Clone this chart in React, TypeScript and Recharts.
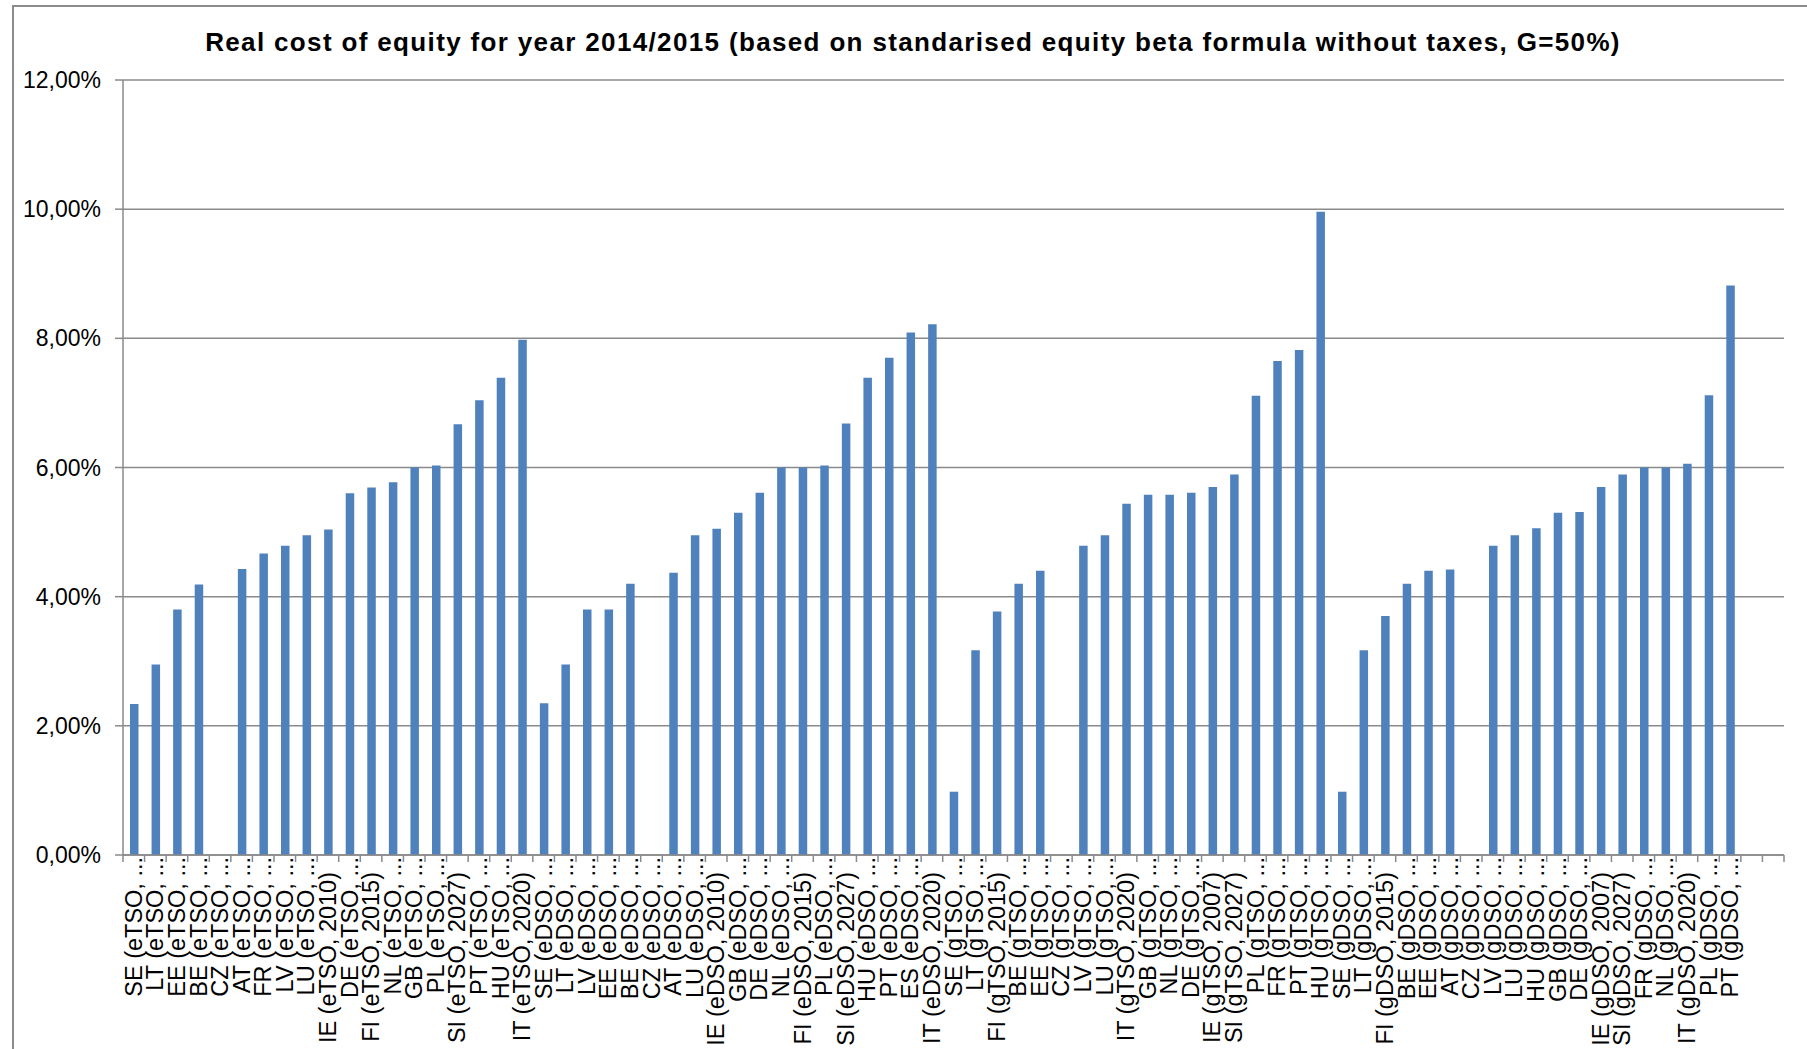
import React from "react";
import { BarChart, Bar, XAxis, YAxis, CartesianGrid } from "recharts";

// labels as printed under the axis (Excel truncated most of them)
const eTsoLabels = [
  "SE (eTSO, ...", "LT (eTSO, ...", "EE (eTSO, ...", "BE (eTSO, ...", "CZ (eTSO, ...",
  "AT (eTSO, ...", "FR (eTSO, ...", "LV (eTSO, ...", "LU (eTSO, ...", "IE (eTSO, 2010)",
  "DE (eTSO, ...", "FI (eTSO, 2015)", "NL (eTSO, ...", "GB (eTSO, ...", "PL (eTSO, ...",
  "SI (eTSO, 2027)", "PT (eTSO, ...", "HU (eTSO, ...", "IT (eTSO, 2020)",
];
const eTsoValues = [
  2.34, 2.95, 3.8, 4.19, null, 4.43, 4.67, 4.79, 4.95, 5.04,
  5.6, 5.69, 5.77, 6.0, 6.03, 6.67, 7.04, 7.39, 7.98,
];

const eDsoLabels = [
  "SE (eDSO, ...", "LT (eDSO, ...", "LV (eDSO, ...", "EE (eDSO, ...", "BE (eDSO, ...",
  "CZ (eDSO, ...", "AT (eDSO, ...", "LU (eDSO, ...", "IE (eDSO, 2010)", "GB (eDSO, ...",
  "DE (eDSO, ...", "NL (eDSO, ...", "FI (eDSO, 2015)", "PL (eDSO, ...", "SI (eDSO, 2027)",
  "HU (eDSO, ...", "PT (eDSO, ...", "ES (eDSO, ...", "IT (eDSO, 2020)",
];
const eDsoValues = [
  2.35, 2.95, 3.8, 3.8, 4.2, null, 4.37, 4.95, 5.05, 5.3,
  5.61, 6.0, 6.0, 6.03, 6.68, 7.39, 7.7, 8.09, 8.22,
];

const gTsoLabels = [
  "SE (gTSO, ...", "LT (gTSO, ...", "FI (gTSO, 2015)", "BE (gTSO, ...", "EE (gTSO, ...",
  "CZ (gTSO, ...", "LV (gTSO, ...", "LU (gTSO, ...", "IT (gTSO, 2020)", "GB (gTSO, ...",
  "NL (gTSO, ...", "DE (gTSO, ...", "IE (gTSO, 2007)", "SI (gTSO, 2027)", "PL (gTSO, ...",
  "FR (gTSO, ...", "PT (gTSO, ...", "HU (gTSO, ...",
];
const gTsoValues = [
  0.98, 3.17, 3.77, 4.2, 4.4, null, 4.79, 4.95, 5.44, 5.58,
  5.58, 5.61, 5.7, 5.89, 7.11, 7.65, 7.82, 9.96,
];

const gDsoLabels = [
  "SE (gDSO, ...", "LT (gDSO, ...", "FI (gDSO, 2015)", "BE (gDSO, ...", "EE (gDSO, ...",
  "AT (gDSO, ...", "CZ (gDSO, ...", "LV (gDSO, ...", "LU (gDSO, ...", "HU (gDSO, ...",
  "GB (gDSO, ...", "DE (gDSO, ...", "IE (gDSO, 2007)", "SI (gDSO, 2027)", "FR (gDSO, ...",
  "NL (gDSO, ...", "IT (gDSO, 2020)", "PL (gDSO, ...", "PT (gDSO, ...",
];
const gDsoValues = [
  0.98, 3.17, 3.7, 4.2, 4.4, 4.42, null, 4.79, 4.95, 5.06,
  5.3, 5.31, 5.7, 5.89, 6.0, 6.0, 6.06, 7.12, 8.82,
];

// two empty slots at the end of the axis
const trailingLabels = ["", ""];
const trailingValues = [null, null];

const yTicks = [0, 2, 4, 6, 8, 10, 12];

const labels = [...eTsoLabels, ...eDsoLabels, ...gTsoLabels, ...gDsoLabels, ...trailingLabels];
const values = [...eTsoValues, ...eDsoValues, ...gTsoValues, ...gDsoValues, ...trailingValues];
const data = labels.map((name, i) => ({ name, value: values[i] }));

const W = 1807;
const H = 1049;
const PLOT_LEFT = 123;
const PLOT_RIGHT = 1784;
const BAND = (PLOT_RIGHT - PLOT_LEFT) / data.length;
const GREY = "#8a8a8a";
const FONT = "'Liberation Sans', Arial, sans-serif";

function CategoryTick(props: any) {
  const { x, y, payload, index } = props;
  const half = BAND / 2;
  const label: string = payload.value;
  // truncated labels run right up to the axis, full ones sit a bit lower
  const ty = label.endsWith("...") ? y + 2 : y + 17;
  return (
    <g>
      <line x1={x - half} y1={y} x2={x - half} y2={y + 7} stroke={GREY} strokeWidth={1.5} />
      {index === data.length - 1 && (
        <line x1={x + half} y1={y} x2={x + half} y2={y + 7} stroke={GREY} strokeWidth={1.5} />
      )}
      <text
        x={x}
        y={ty}
        transform={`rotate(-90 ${x} ${ty})`}
        textAnchor="end"
        dominantBaseline="central"
        fontSize={23.5}
        fontFamily={FONT}
        fill="#000"
      >
        {label}
      </text>
    </g>
  );
}

export default function App() {
  return (
    <div
      style={{
        position: "absolute",
        left: 0,
        top: 0,
        width: W,
        height: H,
        overflow: "hidden",
        background: "#fff",
        fontFamily: FONT,
      }}
    >
      <div
        style={{
          position: "absolute",
          left: 12,
          top: 5,
          width: W,
          height: H + 40,
          border: "2px solid #8c8c8c",
          boxSizing: "border-box",
        }}
      />
      <div
        style={{
          position: "absolute",
          left: 0,
          top: 27,
          width: 1826,
          textAlign: "center",
          fontWeight: "bold",
          fontSize: 26,
          letterSpacing: 1.35,
          color: "#000",
        }}
      >
        Real cost of equity for year 2014/2015 (based on standarised equity beta formula without taxes, G=50%)
      </div>
      <div style={{ position: "absolute", left: 0, top: 0 }}>
        <BarChart
          width={W}
          height={H}
          data={data}
          margin={{ top: 80, right: W - PLOT_RIGHT, bottom: 4, left: 0 }}
          barCategoryGap={0}
        >
          <CartesianGrid vertical={false} stroke={GREY} strokeWidth={1.5} />
          <XAxis
            dataKey="name"
            interval={0}
            height={190}
            tickSize={0}
            tickMargin={0}
            tickLine={false}
            axisLine={{ stroke: GREY, strokeWidth: 1.5 }}
            tick={<CategoryTick />}
          />
          <YAxis
            width={PLOT_LEFT}
            domain={[0, 12]}
            ticks={yTicks}
            interval={0}
            tickSize={8}
            tickMargin={14}
            tickLine={{ stroke: GREY, strokeWidth: 1.5 }}
            axisLine={{ stroke: GREY, strokeWidth: 1.5 }}
            tick={{ fill: "#000", fontSize: 23, fontFamily: FONT }}
            tickFormatter={(v: number) => v.toFixed(2).replace(".", ",") + "%"}
          />
          <Bar dataKey="value" fill="#4f81bd" barSize={8.5} isAnimationActive={false} />
        </BarChart>
      </div>
    </div>
  );
}
